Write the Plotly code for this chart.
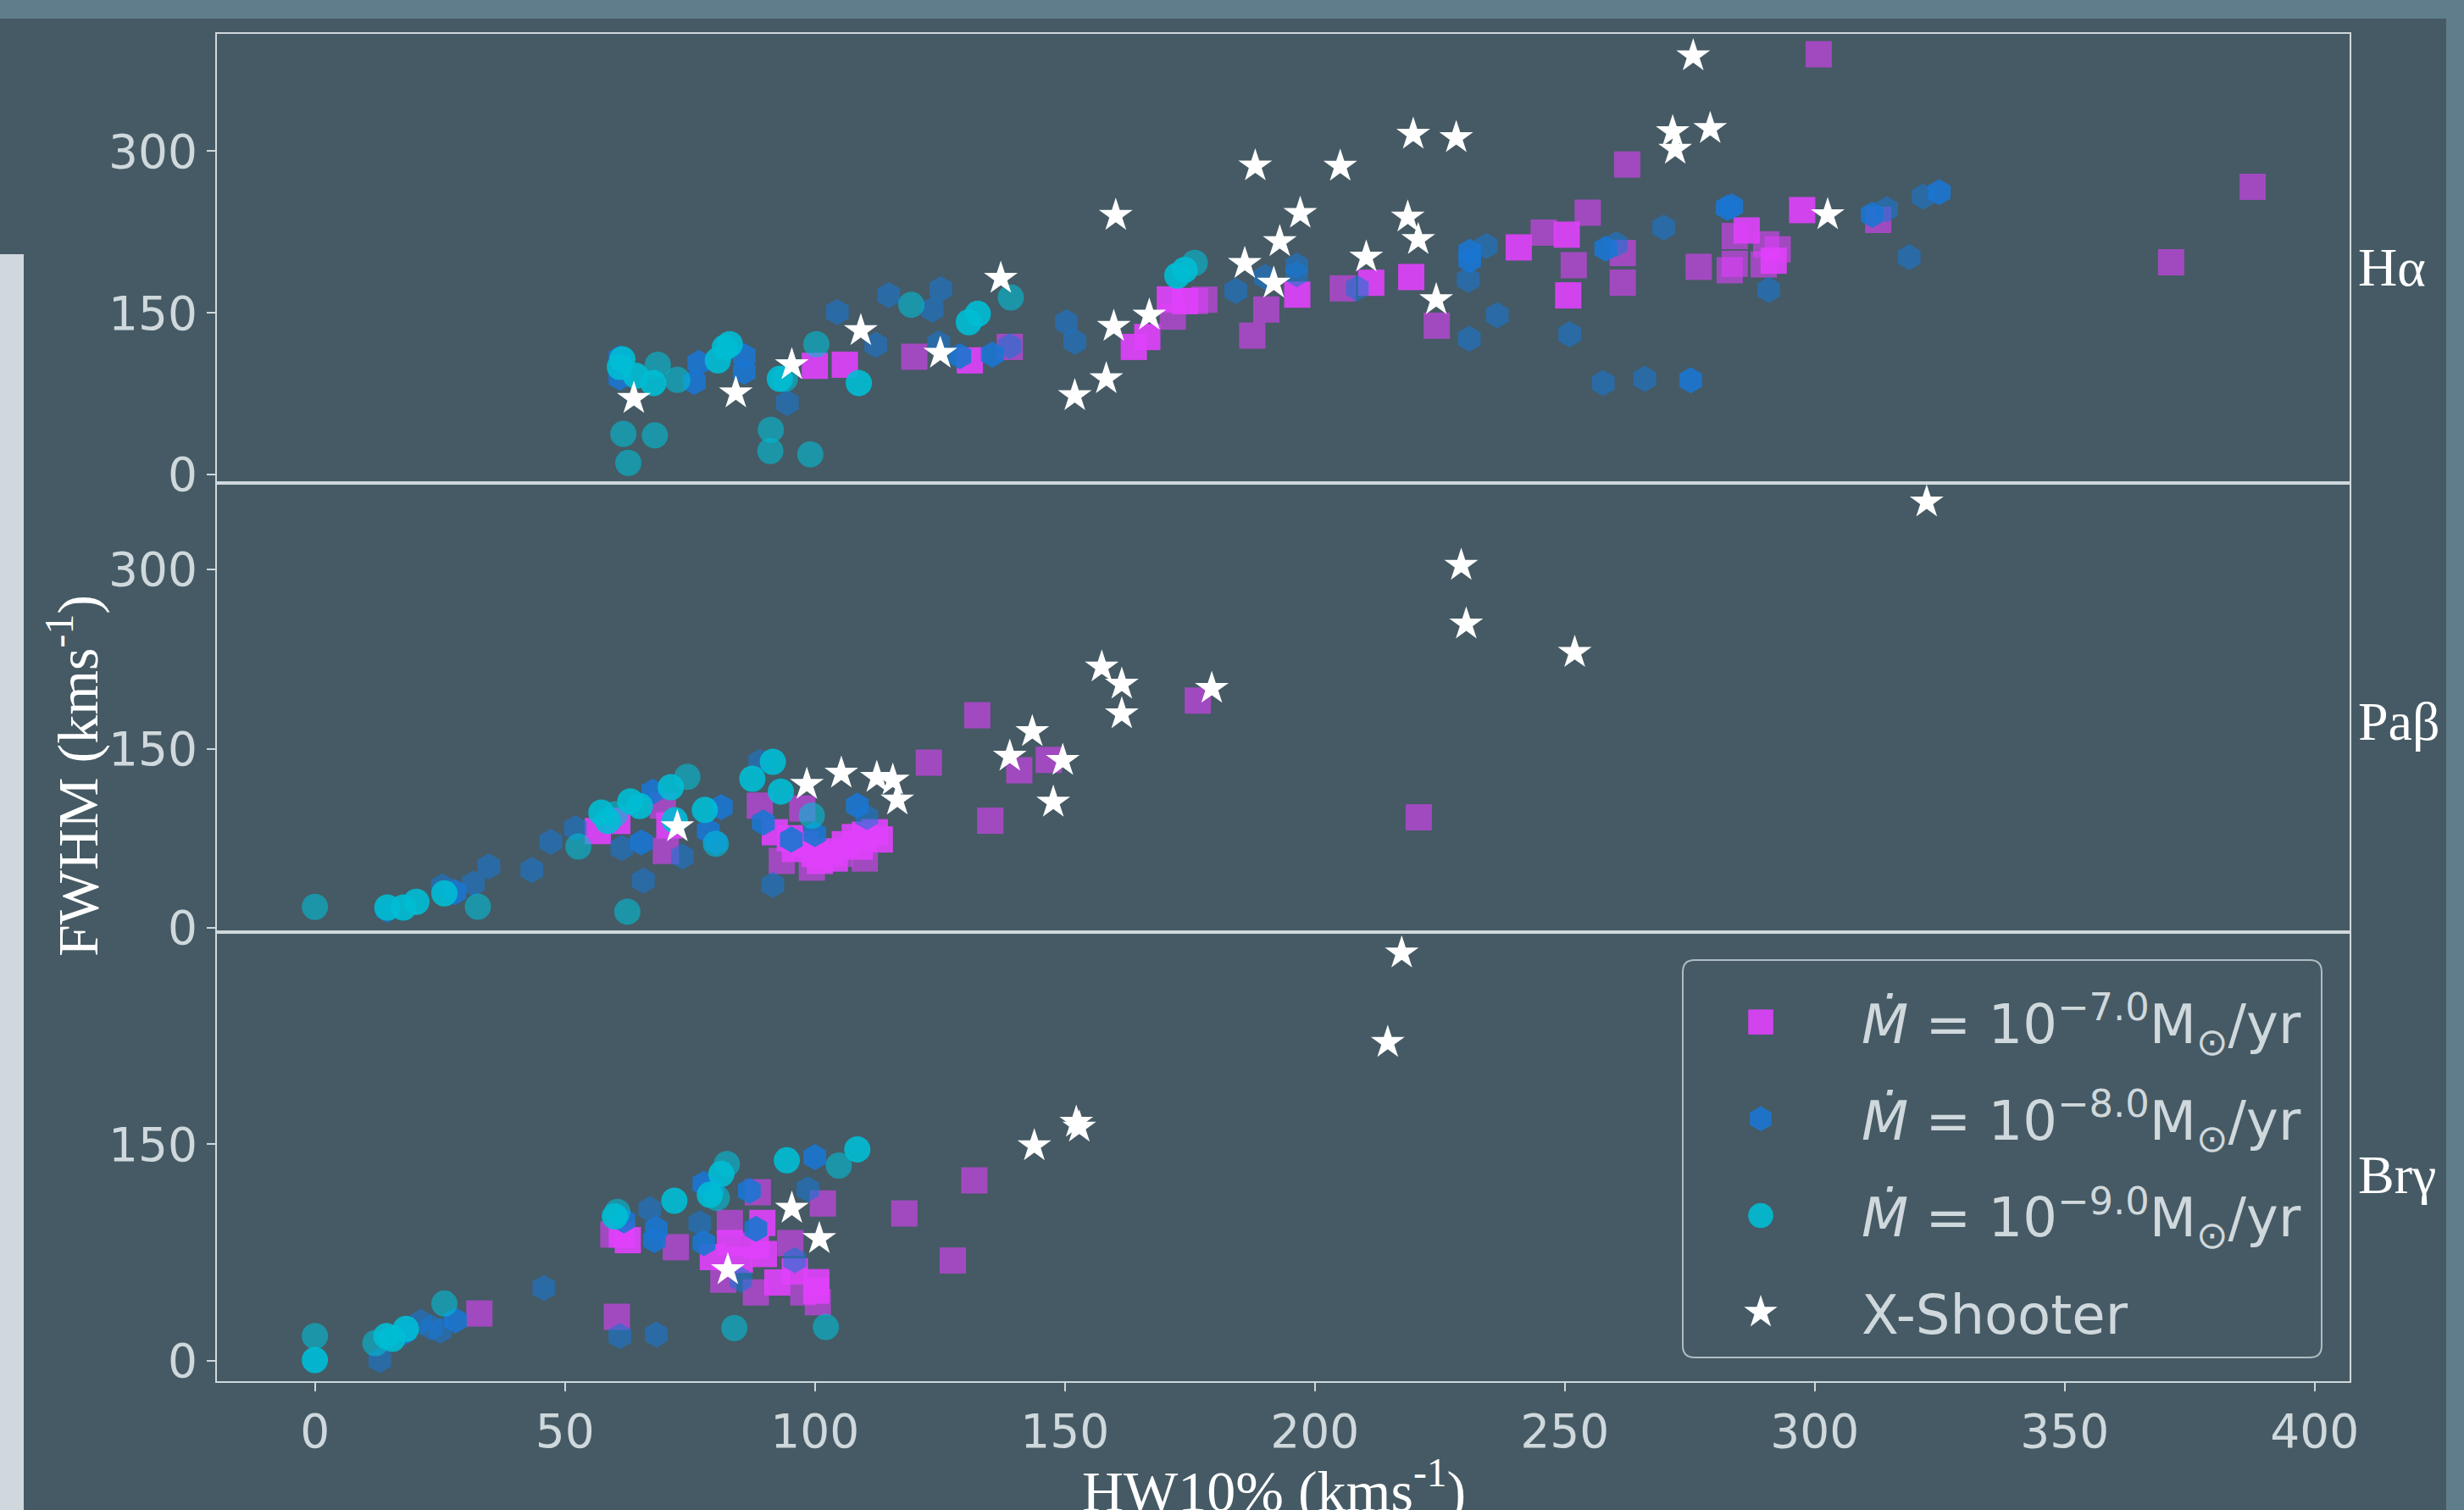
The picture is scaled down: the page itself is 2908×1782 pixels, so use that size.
import plotly.graph_objects as go
from plotly.subplots import make_subplots

# ---------------- data (HW10%, FWHM in km/s) ----------------
x_ticks = [0, 50, 100, 150, 200, 250, 300, 350, 400]
y_ticks = [0, 150, 300]
panel_labels = ["H\u03b1", "Pa\u03b2", "Br\u03b3"]
series_names = [
    "<i>\u1e40</i> = 10<sup>\u22127.0</sup>M<sub>\u2299</sub>/yr",
    "<i>\u1e40</i> = 10<sup>\u22128.0</sup>M<sub>\u2299</sub>/yr",
    "<i>\u1e40</i> = 10<sup>\u22129.0</sup>M<sub>\u2299</sub>/yr",
    "X-Shooter",
]

# ---- H alpha ----
ha_m7_faint_hw = [119.9, 139.0, 171.6, 176.0, 177.9, 187.5, 190.3, 205.6, 224.4, 245.8, 251.8, 254.6, 261.6, 261.6, 262.5, 276.8, 283.0, 284.0, 284.0, 289.8, 290.3, 292.6, 300.8, 312.7, 371.3, 387.6]
ha_m7_faint_fwhm = [109.4, 118.5, 146.6, 161.0, 162.3, 129.0, 153.2, 172.8, 138.2, 224.5, 194.3, 243.0, 205.6, 178.1, 287.7, 192.8, 189.6, 221.3, 195.6, 195.0, 213.7, 209.0, 389.9, 236.3, 197.0, 267.0]
ha_m7_bright_hw = [100.0, 106.0, 131.0, 163.8, 166.5, 171.0, 174.0, 196.5, 211.3, 219.3, 240.8, 250.4, 250.7, 286.4, 291.8, 297.5]
ha_m7_bright_fwhm = [101.0, 102.0, 106.0, 118.5, 127.7, 162.5, 161.0, 167.0, 178.0, 183.3, 210.8, 222.6, 166.3, 226.5, 198.5, 245.4]
ha_m8_faint_hw = [94.5, 104.5, 112.2, 114.8, 123.5, 124.8, 125.2, 139.0, 150.3, 152.0, 184.2, 190.1, 196.4, 196.4, 208.5, 230.7, 230.9, 234.3, 236.5, 251.0, 257.7, 260.3, 266.0, 269.8, 290.8, 314.4, 318.9, 321.7]
ha_m8_faint_fwhm = [66.6, 150.8, 120.4, 166.5, 153.0, 121.7, 172.0, 119.3, 141.4, 123.3, 170.4, 183.3, 193.8, 186.0, 172.8, 180.7, 126.1, 212.2, 147.9, 130.3, 85.0, 213.7, 88.9, 229.2, 171.5, 246.2, 201.7, 258.0]
ha_m8_bright_hw = [61.0, 61.0, 75.9, 76.8, 85.9, 85.9, 129.0, 135.5, 231.0, 231.0, 258.2, 275.2, 282.5, 283.4, 311.5, 324.9]
ha_m8_bright_fwhm = [90.0, 108.0, 86.0, 103.6, 109.9, 95.7, 110.0, 111.4, 206.9, 199.0, 209.6, 87.6, 247.5, 248.9, 241.0, 262.0]
ha_m9_faint_hw = [61.7, 68.0, 62.7, 91.2, 91.1, 99.1, 68.6, 72.5, 94.0, 100.3, 119.3, 139.2, 176.0]
ha_m9_faint_fwhm = [37.8, 36.5, 11.0, 41.7, 22.0, 18.9, 102.0, 87.9, 89.0, 121.0, 157.6, 164.4, 196.4]
ha_m9_bright_hw = [61.0, 61.5, 64.2, 67.7, 80.6, 82.0, 83.0, 93.0, 108.8, 130.8, 132.6, 172.5, 174.0]
ha_m9_bright_fwhm = [100.0, 107.0, 91.8, 85.0, 106.0, 117.8, 121.0, 88.9, 85.0, 141.4, 149.2, 184.6, 190.0]
ha_xs_hw = [63.8, 84.2, 95.4, 109.2, 125.1, 137.2, 152.0, 158.3, 160.2, 159.8, 166.9, 275.7, 271.6, 279.1, 272.1, 219.7, 228.3, 188.1, 205.1, 197.1, 193.0, 218.6, 220.7, 186.0, 191.8, 210.3, 224.3, 302.6]
ha_xs_fwhm = [70.6, 75.8, 102.0, 133.5, 112.5, 182.0, 73.2, 88.9, 240.5, 137.4, 147.9, 388.3, 318.0, 321.0, 301.8, 315.7, 312.6, 286.3, 286.0, 242.3, 216.0, 238.9, 218.0, 195.9, 177.5, 201.7, 162.3, 241.0]

# ---- Pa beta ----
pb_m7_faint_hw = [69.6, 70.2, 89.0, 93.4, 97.5, 99.4, 105.0, 110.0, 122.8, 132.5, 135.1, 140.9, 146.8, 176.6, 220.8]
pb_m7_faint_fwhm = [102.3, 64.4, 102.3, 56.0, 99.9, 50.4, 62.0, 58.0, 138.3, 178.0, 89.7, 131.9, 140.6, 190.3, 92.5]
pb_m7_bright_hw = [56.6, 60.5, 70.9, 92.0, 95.0, 96.0, 98.0, 100.0, 101.0, 103.0, 104.0, 106.0, 108.0, 109.0, 110.0, 112.0, 113.0]
pb_m7_bright_fwhm = [81.0, 89.5, 85.7, 80.0, 75.0, 66.0, 70.0, 62.0, 56.0, 64.0, 58.0, 70.0, 76.0, 68.0, 78.0, 80.0, 74.0]
pb_m8_faint_hw = [14.5, 25.5, 31.7, 34.8, 43.4, 47.2, 52.1, 61.4, 65.7, 73.5, 89.0, 91.6, 110.4]
pb_m8_faint_fwhm = [14.7, 34.8, 37.1, 51.4, 48.3, 72.0, 83.3, 66.8, 39.5, 59.7, 139.0, 36.0, 92.8]
pb_m8_bright_hw = [28.0, 65.3, 67.6, 78.7, 80.2, 81.3, 89.7, 95.3, 100.0, 108.5]
pb_m8_bright_fwhm = [30.0, 71.5, 114.1, 81.0, 71.5, 101.0, 88.1, 73.9, 78.6, 102.3]
pb_m9_faint_hw = [0.0, 32.6, 62.5, 52.7, 74.5, 80.2, 99.4, 60.0]
pb_m9_faint_fwhm = [17.5, 17.7, 13.5, 68.0, 126.4, 70.3, 94.0, 95.0]
pb_m9_bright_hw = [14.5, 17.7, 20.3, 25.9, 57.3, 58.6, 63.1, 65.0, 71.2, 72.0, 78.0, 87.5, 91.6, 93.2]
pb_m9_bright_fwhm = [17.0, 17.0, 21.8, 28.9, 96.4, 89.5, 105.8, 102.0, 117.7, 90.0, 98.7, 124.8, 139.0, 114.1]
pb_xs_hw = [157.4, 161.4, 161.4, 179.4, 143.5, 139.0, 149.6, 147.7, 105.3, 98.4, 112.4, 115.6, 116.5, 72.5, 322.4, 229.3, 230.3, 252.0]
pb_xs_fwhm = [218.3, 204.0, 179.2, 200.5, 164.3, 143.7, 140.1, 105.1, 129.5, 120.0, 125.9, 123.6, 107.0, 84.5, 356.5, 303.5, 254.3, 230.5]

# ---- Br gamma ----
bg_m7_faint_hw = [32.9, 59.7, 60.4, 72.2, 81.7, 83.0, 88.2, 88.6, 95.1, 97.7, 100.6, 101.6, 117.9, 127.6, 131.9]
bg_m7_faint_fwhm = [32.8, 87.5, 30.5, 78.7, 56.2, 95.5, 47.4, 116.8, 81.6, 47.4, 40.6, 109.0, 102.1, 69.5, 125.0]
bg_m7_bright_hw = [61.4, 62.6, 79.6, 83.0, 85.0, 88.2, 89.5, 89.8, 92.5, 96.0, 100.3, 100.3]
bg_m7_bright_fwhm = [87.5, 83.6, 71.9, 81.6, 70.0, 79.7, 95.5, 74.0, 54.3, 62.0, 54.5, 48.6]
bg_m8_faint_hw = [0.0, 13.0, 21.2, 23.3, 25.1, 45.8, 61.0, 67.0, 68.3, 77.0, 85.2, 96.0, 98.6]
bg_m8_faint_fwhm = [0.6, 0.6, 27.0, 23.0, 21.0, 50.4, 17.2, 105.1, 18.2, 95.3, 56.2, 69.9, 118.8]
bg_m8_bright_hw = [18.0, 28.1, 61.8, 67.9, 68.3, 77.8, 77.8, 79.6, 86.9, 88.2, 100.0]
bg_m8_bright_fwhm = [20.0, 28.0, 97.3, 83.6, 91.4, 122.6, 81.6, 119.7, 117.8, 91.4, 141.2]
bg_m9_faint_hw = [0.0, 12.1, 25.9, 60.5, 80.4, 82.4, 83.9, 102.2, 104.8]
bg_m9_faint_fwhm = [17.2, 12.3, 39.7, 103.1, 112.9, 136.3, 22.7, 23.4, 135.3]
bg_m9_bright_hw = [0.0, 14.3, 15.5, 18.2, 60.0, 71.9, 79.0, 81.3, 94.4, 108.5]
bg_m9_bright_fwhm = [0.6, 17.2, 15.2, 22.1, 100.0, 110.9, 115.0, 129.5, 138.9, 146.5]
bg_xs_hw = [82.6, 95.4, 100.9, 143.9, 152.3, 152.9, 214.6, 217.4]
bg_xs_fwhm = [63.1, 105.6, 84.6, 148.9, 165.2, 161.9, 220.6, 282.5]

# ---------------- styling ----------------
W, H = 2908, 1782
ML, MR, MT, MB = 256, 135, 40, 152
PW, PH = W - ML - MR, H - MT - MB

BG = "#455a64"
STRIP = "#607d8b"
LIGHT = "#cfd8dc"
FRAME = "#cfd8dc"

styles = [
    dict(symbol="square", color="#e040fb", size=31),
    dict(symbol="hexagon", color="#1976d2", size=31),
    dict(symbol="circle", color="#00bcd4", size=31),
    dict(symbol="star", color="#ffffff", size=30),
]
FAINT, BRIGHT = 0.6, 0.9

panels = [
    [(ha_m7_faint_hw, ha_m7_faint_fwhm, ha_m7_bright_hw, ha_m7_bright_fwhm),
     (ha_m8_faint_hw, ha_m8_faint_fwhm, ha_m8_bright_hw, ha_m8_bright_fwhm),
     (ha_m9_faint_hw, ha_m9_faint_fwhm, ha_m9_bright_hw, ha_m9_bright_fwhm),
     (ha_xs_hw, ha_xs_fwhm)],
    [(pb_m7_faint_hw, pb_m7_faint_fwhm, pb_m7_bright_hw, pb_m7_bright_fwhm),
     (pb_m8_faint_hw, pb_m8_faint_fwhm, pb_m8_bright_hw, pb_m8_bright_fwhm),
     (pb_m9_faint_hw, pb_m9_faint_fwhm, pb_m9_bright_hw, pb_m9_bright_fwhm),
     (pb_xs_hw, pb_xs_fwhm)],
    [(bg_m7_faint_hw, bg_m7_faint_fwhm, bg_m7_bright_hw, bg_m7_bright_fwhm),
     (bg_m8_faint_hw, bg_m8_faint_fwhm, bg_m8_bright_hw, bg_m8_bright_fwhm),
     (bg_m9_faint_hw, bg_m9_faint_fwhm, bg_m9_bright_hw, bg_m9_bright_fwhm),
     (bg_xs_hw, bg_xs_fwhm)],
]
y_ranges = [[-7.7, 408.8], [-3.6, 372.5], [-14.1, 297.0]]
x_range = [-19.6, 407.0]

fig = make_subplots(rows=3, cols=1, vertical_spacing=0, shared_xaxes=True)

for r, panel in enumerate(panels, start=1):
    for s, data in enumerate(panel):
        st = styles[s]
        grp = "g%d" % s
        if s < 3:
            fx, fy, bx, by = data
            fig.add_trace(go.Scatter(
                x=fx, y=fy, mode="markers", name=series_names[s], legendgroup=grp,
                showlegend=False, marker=dict(symbol=st["symbol"], color=st["color"],
                size=st["size"], opacity=FAINT, line=dict(width=0))), row=r, col=1)
            fig.add_trace(go.Scatter(
                x=bx, y=by, mode="markers", name=series_names[s], legendgroup=grp,
                showlegend=(r == 1), marker=dict(symbol=st["symbol"], color=st["color"],
                size=st["size"], opacity=BRIGHT, line=dict(width=0))), row=r, col=1)
        else:
            xx, yy = data
            fig.add_trace(go.Scatter(
                x=xx, y=yy, mode="markers", name=series_names[s], legendgroup=grp,
                showlegend=(r == 1), marker=dict(symbol=st["symbol"], color=st["color"],
                size=st["size"], line=dict(width=0))), row=r, col=1)

tickfont = dict(family="DejaVu Sans", size=55, color=LIGHT)
for r in range(1, 4):
    fig.update_xaxes(range=x_range, showline=True, mirror=True, linecolor=FRAME, linewidth=2,
                     showgrid=False, zeroline=False,
                     tickvals=x_ticks, ticktext=[str(v) for v in x_ticks],
                     ticks="outside" if r == 3 else "", ticklen=10, tickwidth=2, tickcolor=FRAME,
                     showticklabels=(r == 3), tickfont=tickfont, row=r, col=1)
    fig.update_yaxes(range=y_ranges[r - 1], showline=True, mirror=True, linecolor=FRAME, linewidth=2,
                     showgrid=False, zeroline=False,
                     tickvals=y_ticks, ticktext=[str(v) for v in y_ticks],
                     ticks="outside", ticklen=10, tickwidth=2, tickcolor=FRAME,
                     tickfont=tickfont, row=r, col=1)

def pxp(v):
    return (v - ML) / PW

def pyp(v):
    return (H - MB - v) / PH

shapes = []
# decorative background strips
shapes.append(dict(type="rect", xref="paper", yref="paper", x0=pxp(-20), x1=pxp(W + 20),
                   y0=pyp(22), y1=pyp(-20), fillcolor=STRIP, line=dict(width=0), layer="below"))
shapes.append(dict(type="rect", xref="paper", yref="paper", x0=pxp(2887), x1=pxp(W + 20),
                   y0=pyp(H + 20), y1=pyp(-20), fillcolor=STRIP, line=dict(width=0), layer="below"))
shapes.append(dict(type="rect", xref="paper", yref="paper", x0=pxp(-20), x1=pxp(28),
                   y0=pyp(H + 20), y1=pyp(300), fillcolor="#d0d8de", line=dict(width=0), layer="below"))
# rounded legend frame
lx0, lx1, ly0, ly1, rad = 1986, 2740, 1133, 1602, 14
def pt(x, y):
    return "%.5f,%.5f" % (pxp(x), pyp(y))
path = ("M " + pt(lx0 + rad, ly0) + " L " + pt(lx1 - rad, ly0) + " Q " + pt(lx1, ly0) + " " + pt(lx1, ly0 + rad)
        + " L " + pt(lx1, ly1 - rad) + " Q " + pt(lx1, ly1) + " " + pt(lx1 - rad, ly1)
        + " L " + pt(lx0 + rad, ly1) + " Q " + pt(lx0, ly1) + " " + pt(lx0, ly1 - rad)
        + " L " + pt(lx0, ly0 + rad) + " Q " + pt(lx0, ly0) + " " + pt(lx0 + rad, ly0) + " Z")
shapes.append(dict(type="path", xref="paper", yref="paper", path=path, fillcolor=BG,
                   line=dict(color="#b0bcc2", width=2), layer="above", opacity=1))

serif = "Liberation Serif"
annotations = [
    dict(text="FWHM (kms<sup>-1</sup>)", textangle=-90, xref="paper", yref="paper",
         x=pxp(87), y=pyp(916), xanchor="center", yanchor="middle", showarrow=False,
         font=dict(family=serif, size=68, color="#ffffff")),
    dict(text="HW10% (kms<sup>-1</sup>)", xref="paper", yref="paper",
         x=pxp(1503), y=pyp(1755), xanchor="center", yanchor="middle", showarrow=False,
         font=dict(family=serif, size=68, color="#ffffff")),
]
for lab, yc in zip(panel_labels, [316, 851, 1386]):
    annotations.append(dict(text=lab, xref="paper", yref="paper", x=pxp(2781), y=pyp(yc),
                            xanchor="left", yanchor="middle", showarrow=False,
                            font=dict(family=serif, size=64, color="#ffffff")))

fig.update_layout(
    width=W, height=H,
    margin=dict(l=ML, r=MR, t=MT, b=MB, pad=0),
    paper_bgcolor=BG, plot_bgcolor=BG,
    shapes=shapes, annotations=annotations,
    showlegend=True,
    legend=dict(x=pxp(1959), y=pyp(1158), xanchor="left", yanchor="top",
                bgcolor="rgba(0,0,0,0)", borderwidth=0,
                font=dict(family="DejaVu Sans", size=64, color=LIGHT),
                traceorder="grouped", tracegroupgap=28, itemwidth=228,
                itemsizing="trace"),
)

post = (
    "document.body.style.margin='0';document.body.style.overflow='hidden';"
    "document.querySelectorAll('.legend .legendpoints path').forEach(function(p){"
    "var t=p.getAttribute('transform')||'';p.setAttribute('transform',t+' scale(1.85)');});"
)
fig.write_html("out.html", post_script=post, config={"displayModeBar": False})
